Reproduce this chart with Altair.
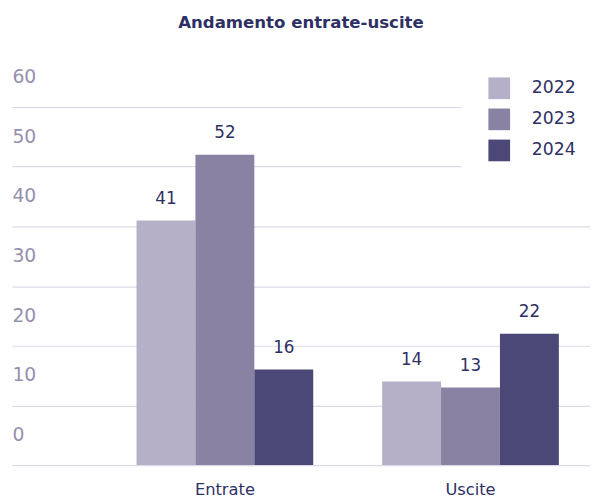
import altair as alt
import pandas as pd

categories = ["Entrate", "Entrate", "Entrate", "Uscite", "Uscite", "Uscite"]
years = ["2022", "2023", "2024", "2022", "2023", "2024"]
values = [41, 52, 16, 14, 13, 22]
year_order = ["2022", "2023", "2024"]
colors = ["#b5b0c8", "#8982a2", "#4b4878"]
y_ticks = [0, 10, 20, 30, 40, 50, 60]

df = pd.DataFrame({"cat": categories, "year": years, "value": values})

FONT = "DejaVu Sans"
DARK = "#2e3064"

xenc = alt.X("cat:N", title=None,
             scale=alt.Scale(paddingInner=0.2805, paddingOuter=0.317, align=0.80),
             axis=alt.Axis(labelAngle=0, ticks=False, domain=False, grid=False,
                           labelFontSize=16.5, labelColor=DARK, labelFont=FONT,
                           labelPadding=17))
yenc = alt.Y("value:Q", title=None,
             scale=alt.Scale(domain=[0, 60], nice=False),
             axis=alt.Axis(values=y_ticks, ticks=False, domain=False,
                           grid=True, gridColor="#dcdae6", gridWidth=1.2,
                           labelAlign="left", labelPadding=0, labelOffset=-31,
                           labelBaseline="middle",
                           labelFontSize=19, labelColor="#968fb0", labelFont=FONT))

base = alt.Chart(df).encode(
    x=xenc,
    xOffset=alt.XOffset("year:N", sort=year_order),
)

bars = base.mark_bar().encode(
    y=yenc,
    color=alt.Color("year:N", sort=year_order,
                    scale=alt.Scale(domain=year_order, range=colors),
                    legend=alt.Legend(title=None, orient="none", legendX=456, legendY=-57,
                                      symbolType="square", symbolSize=484,
                                      symbolStrokeWidth=0, padding=27,
                                      fillColor="white", labelOffset=22,
                                      rowPadding=9.5, labelFontSize=17.5,
                                      labelColor=DARK, labelFont=FONT)),
)

text = base.mark_text(baseline="bottom", dy=-13, fontSize=17, color=DARK, font=FONT).encode(
    y=alt.Y("value:Q"),
    text=alt.Text("value:Q"),
)

chart = alt.layer(bars, text).properties(
    width=586,
    height=363,
    padding={"left": 4, "top": 97, "right": 0, "bottom": 32},
    autosize=alt.AutoSizeParams(type="none"),
    title=alt.TitleParams("Andamento entrate-uscite", fontSize=16.8, fontWeight="bold",
                          color=DARK, font=FONT, anchor="middle", offset=19),
).configure_view(stroke=None)

chart.save("out.html", embed_options={"renderer": "svg", "actions": False})
